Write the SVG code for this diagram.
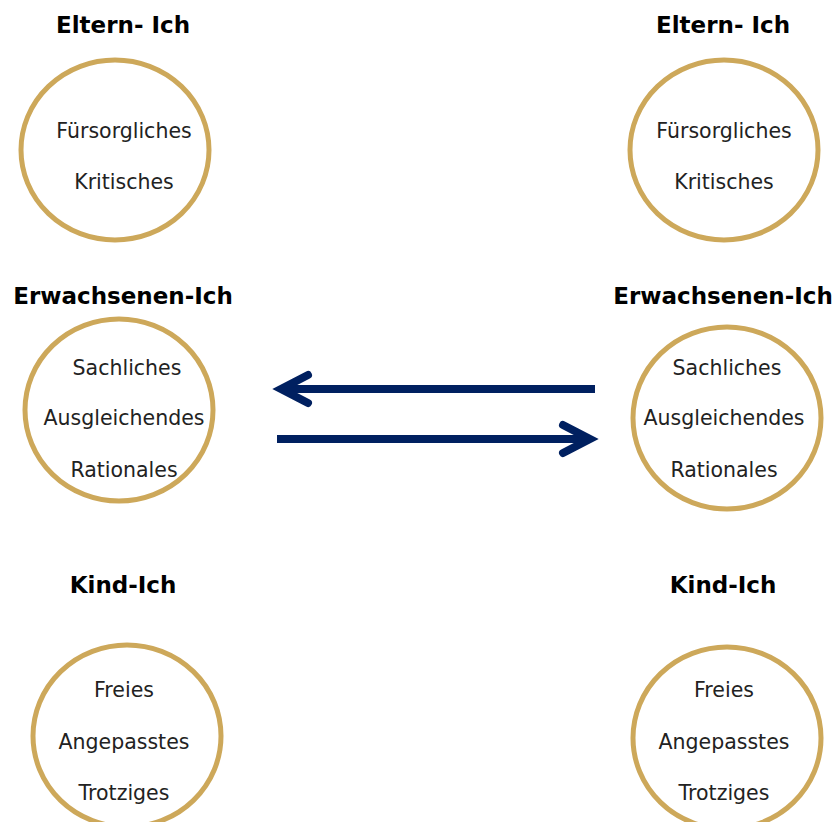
<svg xmlns="http://www.w3.org/2000/svg" width="838" height="822" viewBox="0 0 838 822">
<style>
.ring{fill:none;stroke:#CDA85A;stroke-width:5}
.title{font-family:"DejaVu Sans",sans-serif;font-weight:bold;font-size:23px;fill:#000;text-anchor:middle}
.lbl{font-family:"DejaVu Sans",sans-serif;font-size:20.5px;fill:#222;text-anchor:middle}
.arr{fill:none;stroke:#002060;stroke-width:8}
.head{fill:none;stroke:#002060;stroke-width:8;stroke-linecap:round;stroke-linejoin:miter}
</style>
<rect width="838" height="822" fill="#fff"/>
<g id="eltern-left">
<text class="title" x="123" y="33">Eltern- Ich</text>
<ellipse class="ring" cx="115" cy="150" rx="94" ry="90"/>
<text class="lbl" x="124" y="138">Fürsorgliches</text>
<text class="lbl" x="124" y="189">Kritisches</text>
</g>
<g id="erwachsenen-left">
<text class="title" x="123" y="304">Erwachsenen-Ich</text>
<ellipse class="ring" cx="119" cy="410" rx="94" ry="91"/>
<text class="lbl" x="127" y="375">Sachliches</text>
<text class="lbl" x="124" y="425">Ausgleichendes</text>
<text class="lbl" x="124" y="477">Rationales</text>
</g>
<g id="kind-left">
<text class="title" x="123" y="593">Kind-Ich</text>
<ellipse class="ring" cx="127" cy="736" rx="94" ry="91"/>
<text class="lbl" x="124" y="697">Freies</text>
<text class="lbl" x="124" y="749">Angepasstes</text>
<text class="lbl" x="124" y="800">Trotziges</text>
</g>
<g id="eltern-right">
<text class="title" x="723" y="33">Eltern- Ich</text>
<ellipse class="ring" cx="724" cy="150" rx="94" ry="90"/>
<text class="lbl" x="724" y="138">Fürsorgliches</text>
<text class="lbl" x="724" y="189">Kritisches</text>
</g>
<g id="erwachsenen-right">
<text class="title" x="723" y="304">Erwachsenen-Ich</text>
<ellipse class="ring" cx="727" cy="418" rx="94" ry="91"/>
<text class="lbl" x="727" y="375">Sachliches</text>
<text class="lbl" x="724" y="425">Ausgleichendes</text>
<text class="lbl" x="724" y="477">Rationales</text>
</g>
<g id="kind-right">
<text class="title" x="723" y="593">Kind-Ich</text>
<ellipse class="ring" cx="727" cy="738" rx="94" ry="91"/>
<text class="lbl" x="724" y="697">Freies</text>
<text class="lbl" x="724" y="749">Angepasstes</text>
<text class="lbl" x="724" y="800">Trotziges</text>
</g>
<g id="connectors">
<line class="arr" x1="595" y1="389" x2="284" y2="389"/>
<path class="head" d="M308,375 L281,389 L308,403"/>
<line class="arr" x1="277" y1="439" x2="588" y2="439"/>
<path class="head" d="M563,425 L590,439 L563,453"/>
</g>
</svg>
